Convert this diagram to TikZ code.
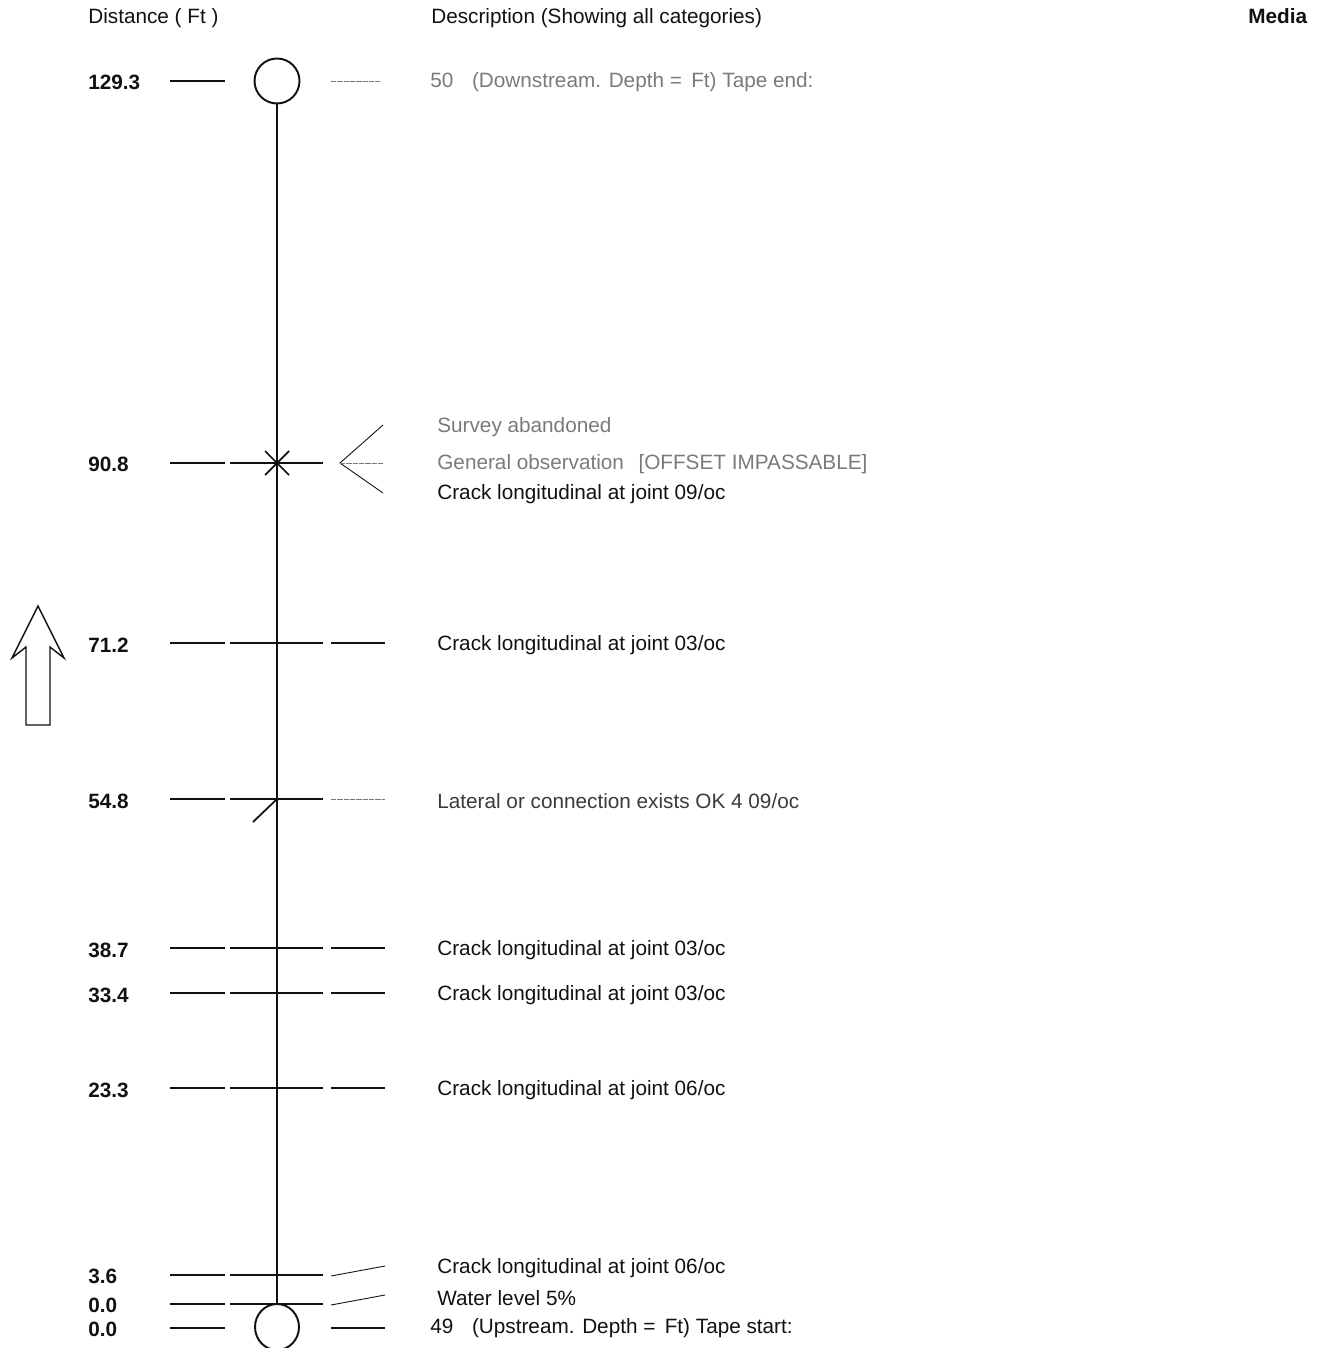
\documentclass[tikz,border=0pt]{standalone}
\usepackage{fontspec}
\setmainfont{Liberation Sans}
\usepackage{xcolor}
\usepackage{tikz}
\usetikzlibrary{shapes.geometric, arrows.meta, positioning, calc}
\definecolor{inkblack}{HTML}{111111}
\definecolor{fadegray}{HTML}{7a7a7a}
\definecolor{midgray}{HTML}{3a3a3a}
\tikzstyle{distlabel} = [anchor=west, inner sep=0pt, font=\fontsize{11.8}{14}\selectfont\bfseries, text=inkblack]
\tikzstyle{headlabel} = [anchor=west, inner sep=0pt, font=\fontsize{11.8}{14}\selectfont, text=inkblack]
\tikzstyle{desclabel} = [anchor=west, inner sep=0pt, font=\fontsize{11.8}{14}\selectfont, text=inkblack]
\tikzstyle{fadelabel} = [desclabel, text=fadegray]
\tikzstyle{manhole} = [circle, draw=inkblack, line width=1.1pt, minimum size=0.9cm, inner sep=0pt]
\tikzstyle{pipe} = [draw=inkblack, line width=0.7pt]
\tikzstyle{tick} = [draw=inkblack, line width=0.8pt]
\tikzstyle{fadetick} = [draw=fadegray, line width=0.5pt]

\begin{document}
\begin{tikzpicture}[x=0.02cm, y=-0.02cm]
  \useasboundingbox (0,0) rectangle (1321,1348);

  % headings
  \node (hdist) [headlabel] at (88,18)   {Distance ( Ft )};
  \node (hdesc) [headlabel] at (431,18)  {Description (Showing all categories)};
  \node (hmedia)[headlabel, font=\fontsize{11.8}{14}\selectfont\bfseries] at (1248,16) {Media};

  % manholes and pipe
  \node (mhtop) [manhole] at (277,81)   {};
  \node (mhbot) [manhole, ellipse, minimum width=0.88cm, minimum height=0.92cm] at (277,1327) {};
  \draw[pipe] (mhtop.south) -- (mhbot.north);

  % flow direction
  \draw[inkblack, line width=0.8pt] (38,606) -- (12,658) -- (26,647) -- (26,725)
    -- (50,725) -- (50,647) -- (64,658) -- cycle;

  % 129.3 tape end
  \node (d1293) [distlabel] at (88,82) {129.3};
  \node (t1293) [fadelabel] at (430,82) {50\hspace{0.9em}(Downstream. Depth =\hspace{0.45em}Ft) Tape end:};
  \draw[tick] (170,81) -- (225,81);
  \draw[fadetick, dash pattern=on 3pt off 0.6pt] (331,81) -- (380,81);

  % 90.8 survey abandoned
  \node (d908) [distlabel] at (88,464) {90.8};
  \node (t908a) [fadelabel] at (437,427) {Survey abandoned};
  \node (t908b) [fadelabel] at (437,464) {General observation\hspace{0.7em}[OFFSET IMPASSABLE]};
  \node (t908c) [desclabel] at (437,494) {Crack longitudinal at joint 09/oc};
  \coordinate (fan) at (340,463);
  \draw[tick] (170,463) -- (225,463);
  \draw[tick] (230,463) -- (323,463);
  \draw[tick, line width=1pt] (265,451) -- (289,475) (265,475) -- (289,451);
  \draw[tick, line width=0.5pt] (383,425) -- (fan) -- (383,493);
  \draw[fadetick, dash pattern=on 3pt off 0.6pt] (fan) -- (383,463);

  % 71.2
  \node (d712) [distlabel] at (88,645) {71.2};
  \node (t712) [desclabel] at (437,645) {Crack longitudinal at joint 03/oc};
  \draw[tick] (170,643) -- (225,643);
  \draw[tick] (230,643) -- (323,643);
  \draw[tick, line width=0.6pt] (331,643) -- (385,643);

  % 54.8 lateral
  \node (d548) [distlabel] at (88,801) {54.8};
  \node (t548) [desclabel, text=midgray] at (437,801) {Lateral or connection exists OK 4 09/oc};
  \draw[tick] (170,799) -- (225,799);
  \draw[tick] (230,799) -- (323,799);
  \draw[tick, line width=1pt] (277,799) -- (253,822);
  \draw[fadetick, dash pattern=on 3pt off 0.6pt] (331,799) -- (385,799);

  % 38.7
  \node (d387) [distlabel] at (88,950) {38.7};
  \node (t387) [desclabel] at (437,950) {Crack longitudinal at joint 03/oc};
  \draw[tick] (170,948) -- (225,948);
  \draw[tick] (230,948) -- (323,948);
  \draw[tick, line width=0.6pt] (331,948) -- (385,948);

  % 33.4
  \node (d334) [distlabel] at (88,995) {33.4};
  \node (t334) [desclabel] at (437,995) {Crack longitudinal at joint 03/oc};
  \draw[tick] (170,993) -- (225,993);
  \draw[tick] (230,993) -- (323,993);
  \draw[tick, line width=0.6pt] (331,993) -- (385,993);

  % 23.3
  \node (d233) [distlabel] at (88,1090) {23.3};
  \node (t233) [desclabel] at (437,1090) {Crack longitudinal at joint 06/oc};
  \draw[tick] (170,1088) -- (225,1088);
  \draw[tick] (230,1088) -- (323,1088);
  \draw[tick, line width=0.6pt] (331,1088) -- (385,1088);

  % 3.6
  \node (d36) [distlabel] at (88,1276) {3.6};
  \node (t36) [desclabel] at (437,1268) {Crack longitudinal at joint 06/oc};
  \draw[tick] (170,1275) -- (225,1275);
  \draw[tick] (230,1275) -- (323,1275);
  \draw[tick, line width=0.5pt] (331,1276) -- (385,1266);

  % 0.0 water level
  \node (d00a) [distlabel] at (88,1305) {0.0};
  \node (t00a) [desclabel] at (437,1298) {Water level 5\%};
  \draw[tick] (170,1304) -- (225,1304);
  \draw[tick] (230,1304) -- (323,1304);
  \draw[tick, line width=0.5pt] (331,1305) -- (385,1295);

  % 0.0 tape start
  \node (d00b) [distlabel] at (88,1329) {0.0};
  \node (t00b) [desclabel] at (430,1328) {49\hspace{0.9em}(Upstream. Depth =\hspace{0.45em}Ft) Tape start:};
  \draw[tick] (170,1328) -- (225,1328);
  \draw[tick, line width=0.6pt] (331,1328) -- (385,1328);
\end{tikzpicture}
\end{document}
